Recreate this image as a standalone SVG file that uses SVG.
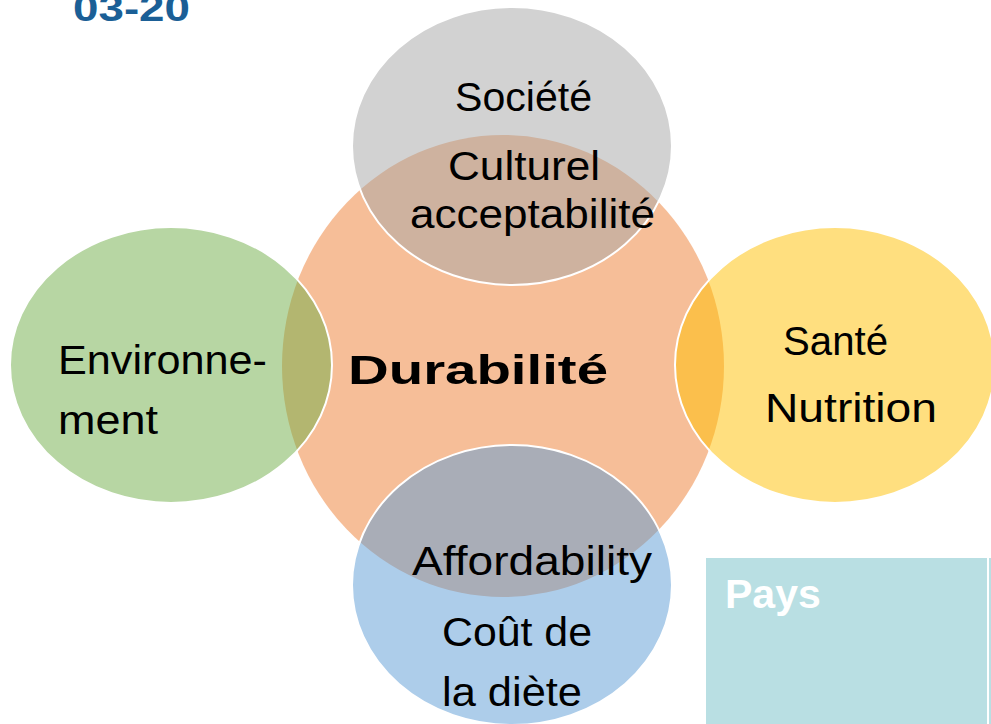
<svg xmlns="http://www.w3.org/2000/svg" width="991" height="724" viewBox="0 0 991 724">
<style>
.c{stroke:#fff;stroke-width:2;fill-opacity:0.5}
.t{font-family:"Liberation Sans",Arial,sans-serif;fill:#000;font-size:41px}
</style>
<rect width="991" height="724" fill="#fff"/>
<g id="logo"><text x="73" y="21" font-family="Liberation Sans,Arial,sans-serif" font-weight="bold" font-size="36" fill="#1B5F96" textLength="117" lengthAdjust="spacingAndGlyphs">03-20</text></g>
<g id="durabilite"><ellipse cx="503" cy="366" rx="221" ry="231" fill="#ED7D31" fill-opacity="0.5"/>
<text class="t" x="348" y="384" font-weight="bold" font-size="53" textLength="260" lengthAdjust="spacingAndGlyphs">Durabilité</text></g>
<g id="societe"><ellipse class="c" cx="512" cy="146" rx="160" ry="139" fill="#A5A5A5"/>
<text class="t" x="455" y="111" textLength="137" lengthAdjust="spacingAndGlyphs">Société</text>
<text class="t" x="448" y="180" textLength="152" lengthAdjust="spacingAndGlyphs">Culturel</text>
<text class="t" x="410" y="228" textLength="245" lengthAdjust="spacingAndGlyphs">acceptabilité</text></g>
<g id="environnement"><ellipse class="c" cx="171" cy="365" rx="161" ry="138" fill="#70AD47"/>
<text class="t" x="58" y="374" textLength="209" lengthAdjust="spacingAndGlyphs">Environne-</text>
<text class="t" x="58" y="434" textLength="100" lengthAdjust="spacingAndGlyphs">ment</text></g>
<g id="sante"><ellipse class="c" cx="835" cy="365" rx="160" ry="138" fill="#FFC000"/>
<text class="t" x="783" y="355" textLength="105" lengthAdjust="spacingAndGlyphs">Santé</text>
<text class="t" x="765" y="422" textLength="172" lengthAdjust="spacingAndGlyphs">Nutrition</text></g>
<g id="cout"><ellipse class="c" cx="512" cy="585" rx="160" ry="140" fill="#5B9BD5"/>
<text class="t" x="412" y="575" textLength="240" lengthAdjust="spacingAndGlyphs">Affordability</text>
<text class="t" x="442" y="646" textLength="150" lengthAdjust="spacingAndGlyphs">Coût de</text>
<text class="t" x="442" y="706" textLength="140" lengthAdjust="spacingAndGlyphs">la diète</text></g>
<g id="pays"><rect x="706" y="558" width="281" height="170" fill="#B9DFE3"/>
<rect x="989" y="558" width="2" height="170" fill="#B9DFE3"/>
<text x="725" y="608" font-family="Liberation Sans,Arial,sans-serif" font-weight="bold" font-size="41" fill="#fff">Pays</text></g>
<g id="connectors"/>
</svg>
